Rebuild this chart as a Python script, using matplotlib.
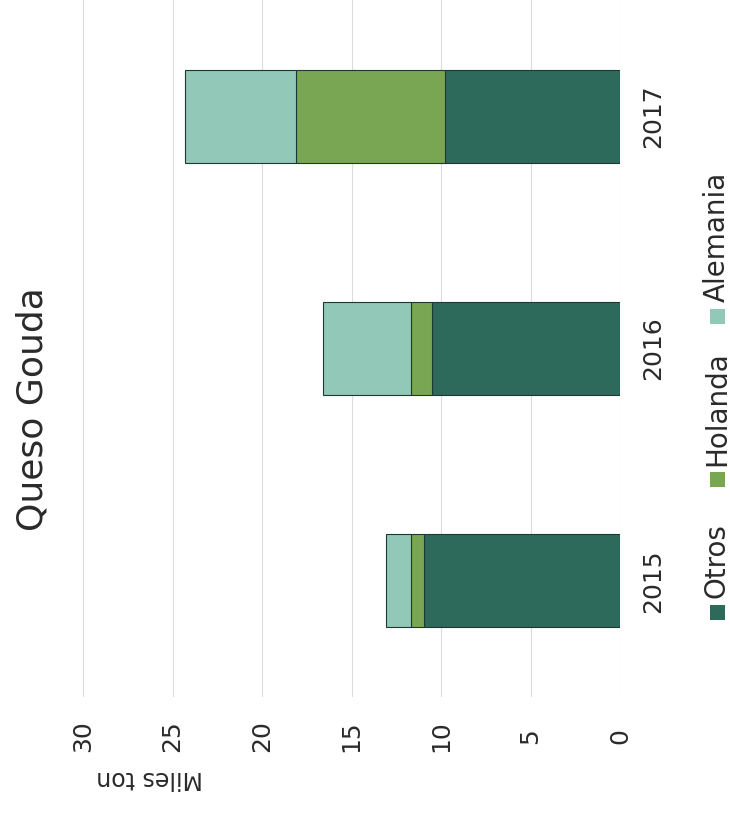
import matplotlib
matplotlib.use("Agg")
from matplotlib import pyplot as plt
from matplotlib.patches import Rectangle

# data
years = ["2015", "2016", "2017"]
otros = [10.95, 10.5, 9.8]
holanda = [0.75, 1.2, 8.3]
alemania = [1.4, 4.9, 6.2]
series_names = ["Otros", "Holanda", "Alemania"]
colors = ["#2e6a5c", "#79a653", "#92c8b7"]
ticks = [0, 5, 10, 15, 20, 25, 30]

plt.rcParams["font.family"] = ["DejaVu Sans"]
txt_color = "#2a2a2a"

W, H = 730, 813
fig = plt.figure(figsize=(W / 100, H / 100), dpi=100)
# chart is drawn rotated: value axis runs right-to-left, categories bottom-to-top
ax = fig.add_axes([83 / W, 1 - 697 / H, (620 - 83) / W, 697 / H])

pos = list(range(len(years)))
left = [0] * len(years)
for name, vals, c in zip(series_names, [otros, holanda, alemania], colors):
    ax.barh(pos, vals, left=left, height=0.4, color=c, edgecolor="#1c3a33",
            linewidth=0.8, label=name, zorder=3)
    left = [l + v for l, v in zip(left, vals)]

ax.set_xlim(30, 0)
ax.set_ylim(-0.5, len(years) - 0.5)
ax.set_xticks(ticks)
ax.set_xticklabels([str(t) for t in ticks], rotation=90, fontsize=18, color=txt_color)
ax.tick_params(axis="x", length=0, pad=28)
for lab in ax.get_xticklabels():
    lab.set_va("center")
ax.yaxis.tick_right()
ax.set_yticks(pos)
ax.set_yticklabels(years, rotation=90, fontsize=18, color=txt_color, va="center")
ax.tick_params(axis="y", length=0, pad=15)
ax.grid(axis="x", color="#dcdcdc", linewidth=0.8, zorder=0)
for s in ax.spines.values():
    s.set_visible(False)

fig.text(33 / W, 1 - 409 / H, "Queso Gouda", rotation=90, fontsize=26,
         ha="center", va="center", color=txt_color)
fig.text(150 / W, 1 - 778 / H, "Miles ton", rotation=180, fontsize=17,
         ha="center", va="center", color=txt_color)

# legend, drawn rotated
leg_x = 717
leg_y = [612, 480, 316]
sq = 15
for name, c, y in zip(series_names, colors, leg_y):
    fig.patches.append(Rectangle(((leg_x - sq / 2) / W, 1 - (y + sq / 2) / H), sq / W, sq / H,
                                 transform=fig.transFigure, facecolor=c,
                                 edgecolor="none"))
    fig.text(leg_x / W, 1 - (y - 14) / H, name, rotation=90, fontsize=20,
             ha="center", va="bottom", color=txt_color)

fig.savefig("out.png", dpi=100)
